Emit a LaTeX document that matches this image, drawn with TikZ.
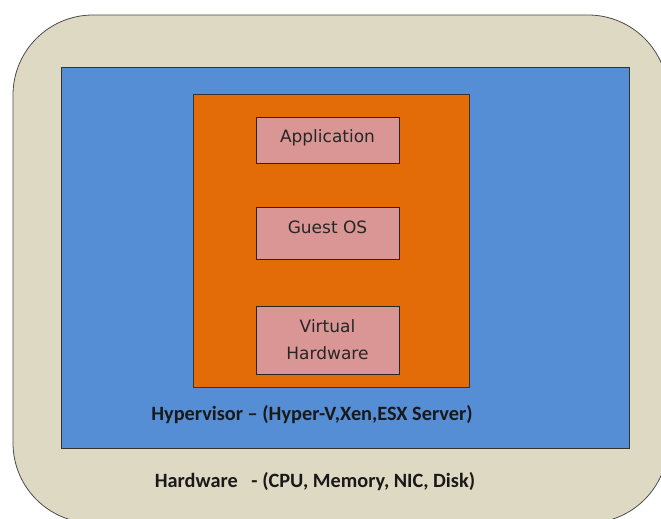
\documentclass[tikz,border=0pt]{standalone}
\usepackage{fontspec}
\setmainfont{DejaVu Sans}
\newfontfamily\calibri[Ligatures=TeX]{Carlito}
\usepackage{tikz}
\usetikzlibrary{positioning,shapes}
\definecolor{hwbeige}{HTML}{DDD9C3}
\definecolor{hvblue}{HTML}{558ED5}
\definecolor{vmorange}{HTML}{E36C09}
\definecolor{boxpink}{HTML}{D99694}
\tikzstyle{layer} = [draw=black!80, rectangle, line width=0.8pt, inner sep=0pt]
\tikzstyle{vblock} = [draw=black!85, fill=boxpink, rectangle, line width=0.8pt,
    minimum width=143pt, align=center, text=black!85,
    font=\fontsize{17}{27}\selectfont]
\tikzstyle{caption} = [font=\calibri\bfseries\fontsize{20.3}{22}\selectfont,
    text=black!90, anchor=base, inner sep=0pt]

\begin{document}
\begin{tikzpicture}[x=1pt, y=-1pt, node distance=93pt]
    \useasboundingbox (0,0) rectangle (661,519);
    % Layers from the outside in
    \node [layer, fill=hwbeige, draw=black!70, rounded corners=80pt,
        minimum width=655pt, minimum height=508pt] (hw) at (340.5,269) {};
    \node [layer, fill=hvblue, minimum width=568pt, minimum height=381pt] (hv) at (345,257.5) {};
    \node [layer, fill=vmorange, minimum width=276pt, minimum height=293pt] (vm) at (331,240.5) {};
    % The guest stack inside the virtual machine
    \node [vblock, minimum height=46pt, text depth=8pt] (app) at (327.5,140) {Application};
    \node [vblock, below of=app, minimum height=52pt, text height=12pt, text depth=12pt] (guest) {Guest OS};
    \node [vblock, below of=guest, node distance=107pt, minimum height=68pt] (vhw) {Virtual\\Hardware};
    % Layer captions
    \node [caption] (hvtext) at (312,420) {Hypervisor – (Hyper-V,Xen,ESX Server)};
    \node [caption] (hwtext) at (315,487) {Hardware~~ - (CPU, Memory, NIC, Disk)};
\end{tikzpicture}
\end{document}
